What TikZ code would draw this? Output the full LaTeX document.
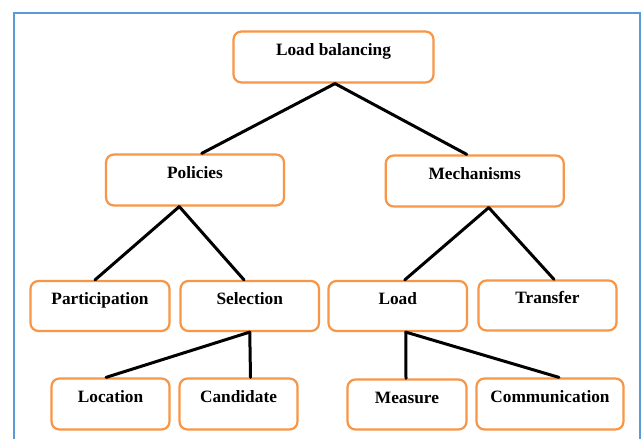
\documentclass[tikz,border=0pt]{standalone}
\usepackage{fontspec}
\setmainfont{Liberation Serif}
\definecolor{frameblue}{HTML}{5B9BD5}
\definecolor{boxorange}{HTML}{F79646}
\tikzset{
  box/.style={draw=boxorange, line width=2.2bp, rounded corners=8bp, fill=white,
    inner sep=0pt, text height=10bp, text depth=13bp,
    font=\fontsize{17.3bp}{20bp}\selectfont\bfseries},
  conn/.style={draw=black, line width=3bp, line cap=round},
}
\begin{document}
\begin{tikzpicture}[x=1bp, y=-1bp]
\useasboundingbox (0,0) rectangle (644,439);
\fill[white] (0,0) rectangle (644,439);
\draw[frameblue, line width=2bp] (14,439) -- (14,13) -- (640,13) -- (640,439);

\node[box, minimum width=200bp, minimum height=51bp] (lb) at (333.5,57) {Load balancing};
\node[box, minimum width=178bp, minimum height=51bp] (pol) at (195,180) {Policies};
\node[box, minimum width=178bp, minimum height=51bp] (mech) at (474.75,181) {Mechanisms};
\node[box, minimum width=139bp, minimum height=50bp] (part) at (100,306) {Participation};
\node[box, minimum width=138.5bp, minimum height=50bp] (sel) at (249.75,306) {Selection};
\node[box, minimum width=138.5bp, minimum height=50bp] (load) at (397.75,306) {Load};
\node[box, minimum width=138bp, minimum height=50bp] (trans) at (547.5,305.5) {Transfer};
\node[box, minimum width=118bp, minimum height=51bp] (loc) at (110.5,404) {Location};
\node[box, minimum width=118bp, minimum height=51bp] (cand) at (238.5,404) {Candidate};
\node[box, minimum width=119bp, minimum height=50bp] (meas) at (407,404.5) {Measure};
\node[box, minimum width=147bp, minimum height=51bp] (comm) at (550,404) {Communication};

\draw[conn] ([xshift=1.5bp]lb.south) -- ([xshift=6.7bp]pol.north);
\draw[conn] ([xshift=1.5bp]lb.south) -- ([xshift=-8bp]mech.north);
\draw[conn] ([xshift=-15.7bp]pol.south) -- ([xshift=-5bp]part.north);
\draw[conn] ([xshift=-15.7bp]pol.south) -- ([xshift=-5.75bp]sel.north);
\draw[conn] ([xshift=14bp]mech.south) -- ([xshift=7bp]load.north);
\draw[conn] ([xshift=14bp]mech.south) -- ([xshift=6.5bp]trans.north);
\draw[conn] (sel.south) -- ([xshift=-4.5bp]loc.north);
\draw[conn] (sel.south) -- ([xshift=12bp]cand.north);
\draw[conn] ([xshift=8bp]load.south) -- ([xshift=-1bp]meas.north);
\draw[conn] ([xshift=8bp]load.south) -- ([xshift=9bp]comm.north);
\end{tikzpicture}
\end{document}
